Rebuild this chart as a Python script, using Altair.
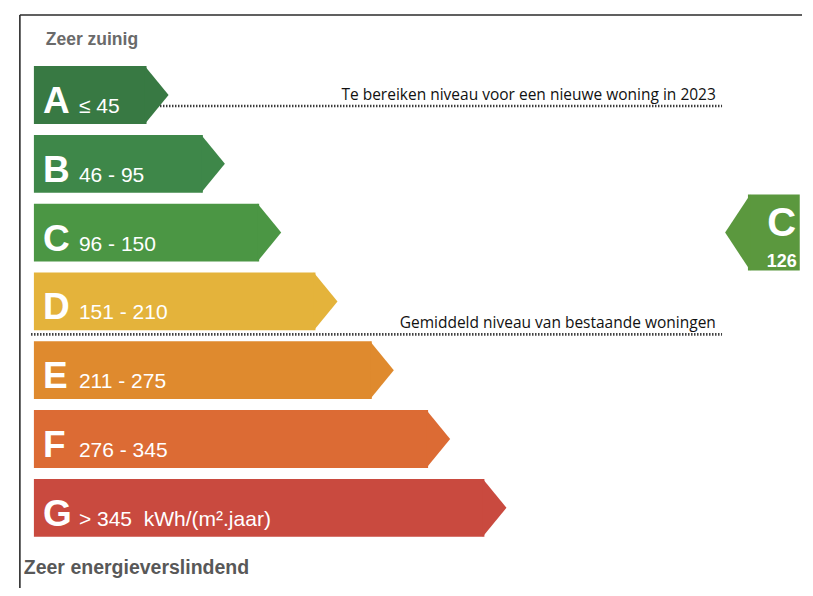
import altair as alt
import pandas as pd

letters = ["A", "B", "C", "D", "E", "F", "G"]
ranges = ["≤ 45", "46 - 95", "96 - 150", "151 - 210", "211 - 275", "276 - 345",
          "> 345\u00a0 kWh/(m².jaar)"]
arrow_length = [2, 3, 4, 5, 6, 7, 8]          # relative arrow lengths
colors = ["#387943", "#3e8749", "#4b9644", "#e4b33b", "#df8a2e", "#dc6b34", "#c94a3f"]

current_label = "C"
current_value = 126
current_color = "#5b983e"

note_texts = ["Te bereiken niveau voor een nieuwe woning in 2023",
              "Gemiddeld niveau van bestaande woningen"]
note_after_row = ["A", "D"]
note_offset = [0.16, 0.48]
note_start = [2.24, -0.05]

top_text = "Zeer zuinig"
bottom_text = "Zeer energieverslindend"

# ---- tables ----
rows = pd.DataFrame({
    "letter": letters,
    "range": ranges,
    "length": arrow_length,
    "color": colors,
})
rows["idx"] = range(len(rows))
rows["start"] = 0.0
rows["y0"] = rows["idx"] - 0.42
rows["y1"] = rows["idx"] + 0.42
rows["lx"] = 0.16

notes = pd.DataFrame({
    "text": note_texts,
    "y": [letters.index(r) + o for r, o in zip(note_after_row, note_offset)],
    "x0": note_start,
})
notes["x1"] = 12.22
notes["tx"] = 12.11

ci = letters.index(current_label)
ind = pd.DataFrame({"label": [current_label], "value": [str(current_value)],
                    "y": [ci], "y0": [ci - 0.552], "y1": [ci + 0.552],
                    "x0": [12.68], "x1": [13.6], "xc": [13.28]})

heads = pd.DataFrame({"text": [top_text, bottom_text], "x": [0.21, -0.18], "y": [-0.80, 6.875],
                      "c": ["#6a6a6a", "#585858"], "s": [17.5, 19.5]})

frame = pd.DataFrame({"x0": [-0.249, -0.249], "x1": [13.8, -0.249],
                      "y0": [-1.163, -1.163], "y1": [-1.163, 7.3]})

xs = alt.Scale(domain=[-0.46, 13.64], nice=False, zero=False)
ys = alt.Scale(domain=[-1.2645, 7.1657], reverse=True, nice=False, zero=False)


def X(f):
    return alt.X(f, type="quantitative", scale=xs, axis=None)


def Y(f):
    return alt.Y(f, type="quantitative", scale=ys, axis=None)


frame_l = alt.Chart(frame).mark_rule(color="#2b2b2b", strokeWidth=1.6).encode(
    x=X("x0"), x2="x1", y=Y("y0"), y2="y1")

bars = alt.Chart(rows).mark_rect().encode(
    x=X("start"), x2="length", y=Y("y0"), y2="y1",
    color=alt.Color("color:N", scale=None))

tips = alt.Chart(rows).mark_point(shape="M-0.06,-1L0.76,0L-0.06,1Z", size=3364,
                                  filled=True, opacity=1, strokeWidth=0).encode(
    x=X("length"), y=Y("idx"), color=alt.Color("color:N", scale=None))

let_t = alt.Chart(rows).mark_text(align="left", baseline="alphabetic", dy=18,
                                  fontSize=37, fontWeight="bold", color="white",
                                  font="Liberation Sans").encode(
    x=X("lx"), y=Y("idx"), text="letter:N")

rng_t = alt.Chart(rows).mark_text(align="left", baseline="alphabetic", dy=18, dx=36,
                                  fontSize=21, color="white",
                                  font="Liberation Sans").encode(
    x=X("lx"), y=Y("idx"), text="range:N")

note_r = alt.Chart(notes).mark_rule(color="#333333", strokeWidth=2.6,
                                    strokeDash=[1.4, 1.6]).encode(
    x=X("x0"), x2="x1", y=Y("y"))

note_t = alt.Chart(notes).mark_text(align="right", baseline="alphabetic", dy=-6,
                                    fontSize=15.5, color="#111111",
                                    font="Open Sans").encode(
    x=X("tx"), y=Y("y"), text="text:N")

ind_b = alt.Chart(ind).mark_rect(color=current_color).encode(
    x=X("x0"), x2="x1", y=Y("y0"), y2="y1")

ind_tip = alt.Chart(ind).mark_point(shape="M0.06,-1L-0.6,0L0.06,1Z", size=5776,
                                    filled=True, opacity=1, strokeWidth=0,
                                    color=current_color).encode(
    x=X("x0"), y=Y("y"))

ind_l = alt.Chart(ind).mark_text(align="center", baseline="alphabetic", dy=3,
                                 fontSize=40, fontWeight="bold", color="white",
                                 font="Liberation Sans").encode(
    x=X("xc"), y=Y("y"), text="label:N")

ind_v = alt.Chart(ind).mark_text(align="center", baseline="alphabetic", dy=34,
                                 fontSize=18, fontWeight="bold", color="white",
                                 font="Liberation Sans").encode(
    x=X("xc"), y=Y("y"), text="value:N")

head_t = alt.Chart(heads).mark_text(align="left", baseline="middle",
                                    fontWeight="bold", font="Liberation Sans").encode(
    x=X("x"), y=Y("y"), text="text:N", color=alt.Color("c:N", scale=None),
    size=alt.Size("s:Q", scale=None))

chart = alt.layer(frame_l, bars, tips, let_t, rng_t, note_r, note_t,
                  ind_b, ind_tip, ind_l, ind_v, head_t).properties(
    width=794, height=580, padding=0, autosize="none", background="white"
).configure_view(stroke=None)

chart.save("out.html", embed_options={"renderer": "svg", "actions": False})
